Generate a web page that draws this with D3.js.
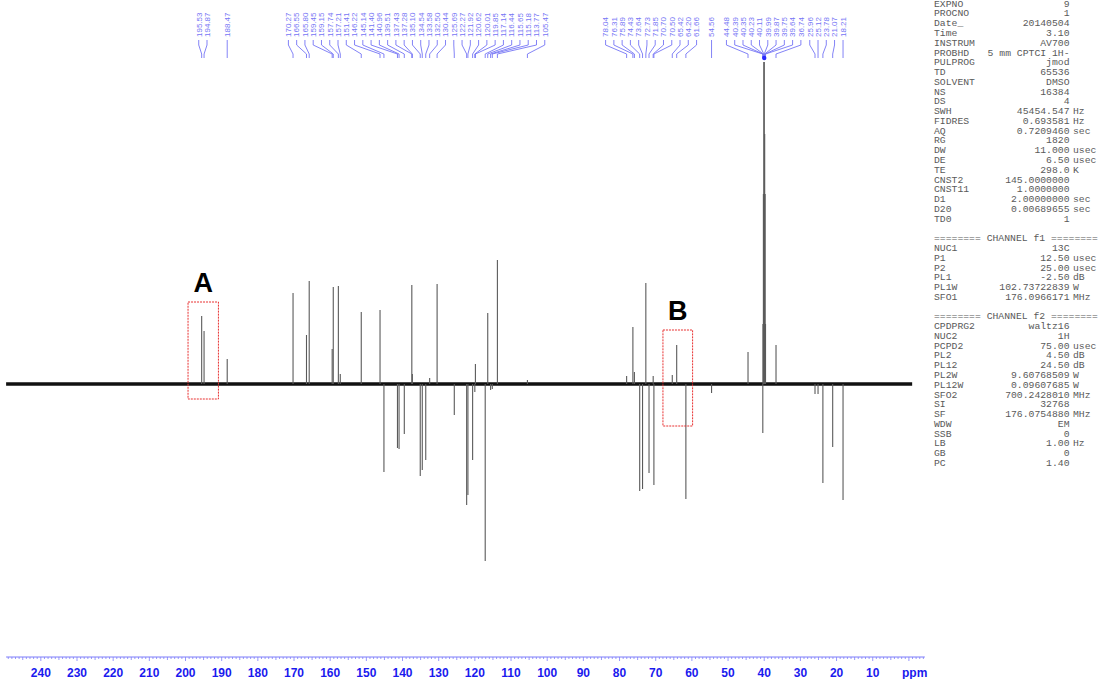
<!DOCTYPE html>
<html>
<head>
<meta charset="utf-8">
<script src="https://cdn.jsdelivr.net/npm/d3@7"></script>
<style>
  body { margin: 0; background: #fff; }
  svg { display: block; }
</style>
</head>
<body>
<div id="chart"></div>
<script>
// Data: chemical shifts (ppm) and signal intensity (a.u., negative = inverted JMOD signal)
const shifts = [195.53, 194.87, 188.47,
  170.27, 166.55, 165.80, 159.45, 159.15, 157.74, 157.21, 151.41, 146.22, 145.14, 141.40, 140.96,
  139.51, 137.43, 137.28, 135.10, 134.54, 133.58, 132.50, 130.44, 125.69, 122.27, 121.92, 120.62,
  120.01, 119.85, 117.14, 116.44, 115.65, 115.18, 113.77, 105.47,
  78.04, 76.31, 75.89, 74.43, 73.64, 72.73, 71.85, 70.70, 70.50, 65.42, 64.20, 61.66,
  54.56, 44.48, 40.39, 40.35, 40.23, 40.11, 39.99, 39.87, 39.75, 39.64, 36.74, 25.96, 25.12, 23.78, 21.07, 18.21]
const intensities = [68, 53, 25,
  91, 49, 103, 35, 97, 98, 10, 72, 74, -88, -64, -65,
  -50, 99, 10, -92, -86, -76, 6, 100, -31, -121, -111, -76,
  -8, 20, -177, 71, -6, -5, 124, 4,
  8, 57, 12, -107, -105, 101, -89, 8, -101, 9, 39, -115,
  -9, 32, -49, 60, 190, 322, 322, 250, 190, 60, 39, -10, -10, -99, -63, -116]

const axisTicks = [240, 230, 220, 210, 200, 190, 180, 170, 160, 150, 140, 130, 120, 110, 100, 90, 80, 70, 60, 50, 40, 30, 20, 10]

// highlighted regions [ppm from, ppm to, intensity top, intensity bottom]
const boxes = [
  {name: 'A', from: 199.3, to: 190.9, top: 82, bottom: -15},
  {name: 'B', from: 68.0, to: 59.8, top: 54, bottom: -42},
]

const paramsMain = [
  ['EXPNO', '9', ''], ['PROCNO', '1', ''], ['Date_', '20140504', ''], ['Time', '3.10', ''],
  ['INSTRUM', 'AV700', ''], ['PROBHD', '5 mm CPTCI 1H-', ''], ['PULPROG', 'jmod', ''],
  ['TD', '65536', ''], ['SOLVENT', 'DMSO', ''], ['NS', '16384', ''], ['DS', '4', ''],
  ['SWH', '45454.547', 'Hz'], ['FIDRES', '0.693581', 'Hz'], ['AQ', '0.7209460', 'sec'],
  ['RG', '1820', ''], ['DW', '11.000', 'usec'], ['DE', '6.50', 'usec'], ['TE', '298.0', 'K'],
  ['CNST2', '145.0000000', ''], ['CNST11', '1.0000000', ''], ['D1', '2.00000000', 'sec'],
  ['D20', '0.00689655', 'sec'], ['TD0', '1', ''],
  null,
  ['======== CHANNEL f1 ========'],
  ['NUC1', '13C', ''], ['P1', '12.50', 'usec'], ['P2', '25.00', 'usec'], ['PL1', '-2.50', 'dB'],
  ['PL1W', '102.73722839', 'W'], ['SFO1', '176.0966171', 'MHz'],
  null,
  ['======== CHANNEL f2 ========'],
  ['CPDPRG2', 'waltz16', ''], ['NUC2', '1H', ''], ['PCPD2', '75.00', 'usec'], ['PL2', '4.50', 'dB'],
  ['PL12', '24.50', 'dB'], ['PL2W', '9.60768509', 'W'], ['PL12W', '0.09607685', 'W'],
  ['SFO2', '700.2428010', 'MHz'], ['SI', '32768', ''], ['SF', '176.0754880', 'MHz'],
  ['WDW', 'EM', ''], ['SSB', '0', ''], ['LB', '1.00', 'Hz'], ['GB', '0', ''], ['PC', '1.40', ''],
]

// Dimensions
const width = 1099, height = 679
const svg = d3.select('#chart').append('svg')
  .attr('width', width).attr('height', height)

// Scales (ppm axis runs right to left)
const xScale = d3.scaleLinear().domain([0, 230]).range([908.9, 77.0])
const yScale = d3.scaleLinear().domain([0, 322]).range([384, 62])

// Baseline (spectrum trace)
svg.append('line')
  .attr('x1', xScale(249.6)).attr('x2', xScale(-0.9))
  .attr('y1', yScale(0)).attr('y2', yScale(0))
  .attr('stroke', '#111').attr('stroke-width', 3.4)

// Peaks
svg.append('g').selectAll('line')
  .data(shifts)
  .join('line')
  .attr('x1', d => xScale(d)).attr('x2', d => xScale(d))
  .attr('y1', yScale(0))
  .attr('y2', (d, i) => yScale(intensities[i]))
  .attr('stroke', '#5a5a5a')
  .attr('stroke-width', 1.1)

// Peak labels: spread apart so they don't overlap, cluster-centred on peaks
const gap = 8.27
const peaks = shifts.map(s => ({ppm: s, px: xScale(s)})).sort((a, b) => a.px - b.px)
let clusters = peaks.map(p => [p])
const place = c => {
  const mean = d3.mean(c, p => p.px)
  c.forEach((p, k) => p.lx = mean + (k - (c.length - 1) / 2) * gap)
}
clusters.forEach(place)
let merged = true
while (merged) {
  merged = false
  for (let i = 0; i < clusters.length - 1; i++) {
    const a = clusters[i], b = clusters[i + 1]
    if (a[a.length - 1].lx + gap > b[0].lx) {
      clusters.splice(i, 2, a.concat(b))
      place(clusters[i])
      merged = true
      break
    }
  }
}

const labelColor = '#7575f5'
const lab = svg.append('g')
lab.selectAll('path')
  .data(peaks)
  .join('path')
  .attr('d', d => `M${d.lx},40 L${d.lx},45 L${d.px},54 L${d.px},58`)
  .attr('fill', 'none')
  .attr('stroke', labelColor)
  .attr('stroke-width', 0.9)
lab.selectAll('text')
  .data(peaks)
  .join('text')
  .attr('transform', d => `translate(${d.lx},37) rotate(-90)`)
  .attr('dy', '0.35em')
  .attr('font-family', 'Liberation Sans, Arial, sans-serif')
  .attr('font-size', 8)
  .attr('fill', labelColor)
  .text(d => d.ppm.toFixed(2))
// dot where the solvent multiplet lines meet
svg.append('circle')
  .attr('cx', xScale(40.0)).attr('cy', 58).attr('r', 2.2)
  .attr('fill', '#2a2aff')

// Highlight boxes
const bx = svg.append('g').selectAll('g').data(boxes).join('g')
bx.append('rect')
  .attr('x', d => xScale(d.from))
  .attr('y', d => yScale(d.top))
  .attr('width', d => xScale(d.to) - xScale(d.from))
  .attr('height', d => yScale(d.bottom) - yScale(d.top))
  .attr('fill', 'none')
  .attr('stroke', '#e83030')
  .attr('stroke-width', 1)
  .attr('stroke-dasharray', '2,1')
bx.append('text')
  .attr('x', d => (xScale(d.from) + xScale(d.to)) / 2)
  .attr('y', d => yScale(d.top) - 10)
  .attr('text-anchor', 'middle')
  .attr('font-family', 'Liberation Sans, Arial, sans-serif')
  .attr('font-weight', 'bold')
  .attr('font-size', 27)
  .attr('fill', '#000')
  .text(d => d.name)

// Axis
const axisY = 657
const axisColor = '#7d7dfa'
const ax = svg.append('g')
ax.append('line')
  .attr('x1', xScale(249.6)).attr('x2', xScale(-4.4))
  .attr('y1', axisY).attr('y2', axisY)
  .attr('stroke', axisColor).attr('stroke-width', 1)
ax.selectAll('.minor')
  .data(d3.range(-4, 250))
  .join('line')
  .attr('x1', d => xScale(d)).attr('x2', d => xScale(d))
  .attr('y1', axisY)
  .attr('y2', d => axisY + (d % 10 === 0 ? 4 : d % 5 === 0 ? 3 : 2))
  .attr('stroke', axisColor).attr('stroke-width', 0.8)
ax.selectAll('text')
  .data(axisTicks)
  .join('text')
  .attr('x', d => xScale(d))
  .attr('y', 677)
  .attr('text-anchor', 'middle')
  .attr('font-family', 'Liberation Sans, Arial, sans-serif')
  .attr('font-weight', 'bold')
  .attr('font-size', 12)
  .attr('fill', '#1a1aee')
  .text(d => d)
ax.append('text')
  .attr('x', xScale(1.9)).attr('y', 677)
  .attr('font-family', 'Liberation Sans, Arial, sans-serif')
  .attr('font-weight', 'bold')
  .attr('font-size', 12)
  .attr('fill', '#1a1aee')
  .text('ppm')

// Acquisition parameter panel
const pr = svg.append('g')
  .attr('font-family', 'Liberation Mono, monospace')
  .attr('font-size', 9.75)
  .attr('fill', '#5a5a5a')
paramsMain.forEach((row, i) => {
  if (!row) return
  const y = 3.3 + i * 9.77
  pr.append('text').attr('x', 934).attr('y', y).attr('dy', '0.35em')
    .attr('xml:space', 'preserve').text(row[0])
  if (row.length > 1) {
    pr.append('text').attr('x', 1069.5).attr('y', y).attr('dy', '0.35em')
      .attr('text-anchor', 'end').text(row[1])
    pr.append('text').attr('x', 1073).attr('y', y).attr('dy', '0.35em').text(row[2])
  }
})
</script>
</body>
</html>
